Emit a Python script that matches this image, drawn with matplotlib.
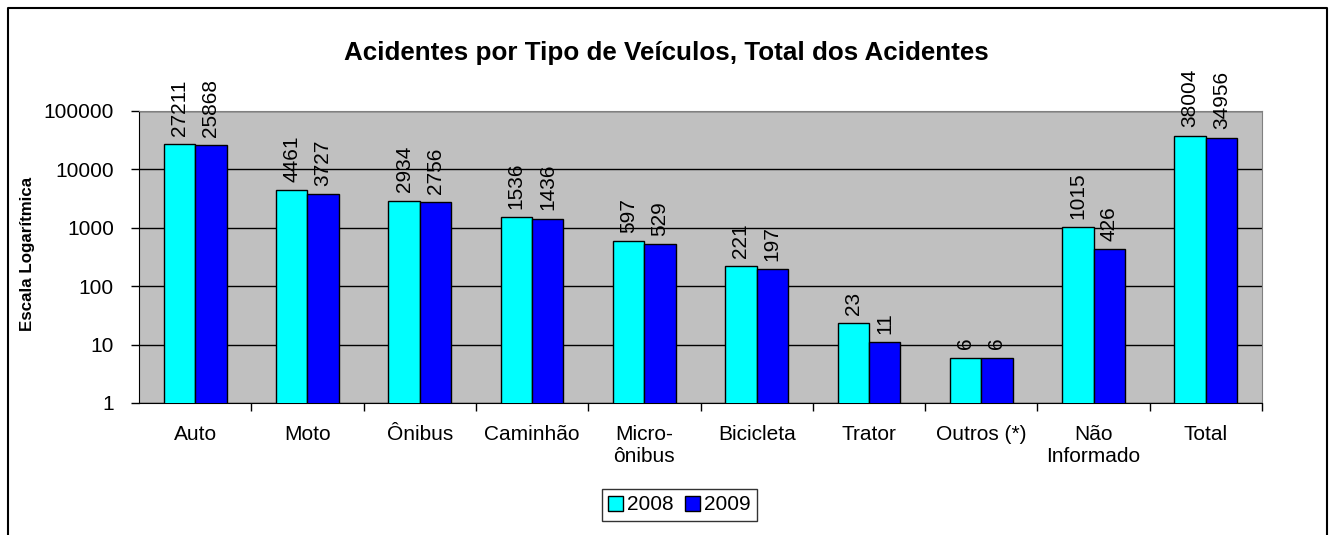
import numpy as np
import matplotlib
matplotlib.use('Agg')
import matplotlib.pyplot as plt
from matplotlib.lines import Line2D

plt.rcParams['font.family'] = ['Liberation Sans', 'DejaVu Sans']

# dados
categorias = ['Auto', 'Moto', 'Ônibus', 'Caminhão', 'Micro-\nônibus',
              'Bicicleta', 'Trator', 'Outros (*)', 'Não\nInformado', 'Total']
anos = ['2008', '2009']
v2008 = [27211, 4461, 2934, 1536, 597, 221, 23, 6, 1015, 38004]
v2009 = [25868, 3727, 2756, 1436, 529, 197, 11, 6, 426, 34956]
yticks = [1, 10, 100, 1000, 10000, 100000]

W, H = 1330, 535
fig = plt.figure(figsize=(W / 100, H / 100), dpi=100)
ax = fig.add_axes([139 / W, 1 - 403 / H, (1262 - 139) / W, (403 - 111) / H])
ax.set_facecolor('#C0C0C0')

x = np.arange(len(categorias))
w = 0.28
b1 = ax.bar(x - w / 2, v2008, w, color='#00FFFF', edgecolor='black',
            linewidth=1, label=anos[0], zorder=3)
b2 = ax.bar(x + w / 2, v2009, w, color='#0000FF', edgecolor='black',
            linewidth=1, label=anos[1], zorder=3)

# rótulos de valores
for bars, vals in [(b1, v2008), (b2, v2009)]:
    for r, v in zip(bars, vals):
        ax.annotate(str(v), (r.get_x() + r.get_width() / 2, v),
                    xytext=(0, 6), textcoords='offset points',
                    rotation=90, ha='center', va='bottom', fontsize=15)

ax.set_yscale('log')
ax.set_ylim(1, 100000)
ax.set_yticks(yticks)
ax.set_yticklabels([str(t) for t in yticks])
ax.yaxis.set_minor_locator(matplotlib.ticker.NullLocator())
ax.set_xlim(-0.5, len(categorias) - 0.5)
ax.set_xticks(x)
ax.set_xticklabels(categorias)
ax.set_xticks(x + 0.5, minor=True)
ax.tick_params(axis='x', which='major', length=0, pad=16, labelsize=15)
ax.tick_params(axis='x', which='minor', length=6, width=1, direction='out')
ax.tick_params(axis='y', length=6, width=1, direction='out', labelsize=15, pad=12)
ax.grid(axis='y', color='black', linewidth=1, zorder=1)
ax.set_axisbelow(True)

for s in ['left', 'bottom']:
    ax.spines[s].set_color('black')
for s in ['top', 'right']:
    ax.spines[s].set_color('#808080')

fig.text(28 / W, 1 - 254 / H, 'Escala Logarítmica', rotation=90,
         ha='center', va='center', fontsize=12.2, fontweight='bold')
fig.text(666 / W, 1 - 53 / H,
         'Acidentes por Tipo de Veículos, Total dos Acidentes',
         ha='center', va='center', fontsize=18.7, fontweight='bold')

fig.legend(loc='center', bbox_to_anchor=(679.5 / W, 1 - 505 / H), ncol=2,
           fontsize=15, frameon=True, fancybox=False, edgecolor='black',
           handlelength=0.7, handleheight=0.7, handletextpad=0.2,
           columnspacing=0.55, borderpad=0.3, borderaxespad=0)
fig.legends[0].get_frame().set_linewidth(1)

# moldura do gráfico
bx0, bx1, by = 7.5 / W, 1326.5 / W, 1 - 7.5 / H
fig.add_artist(Line2D([bx0, bx0, bx1, bx1], [0, by, by, 0],
                      transform=fig.transFigure, color='black', linewidth=1.5))

fig.savefig('out.png', dpi=100)
